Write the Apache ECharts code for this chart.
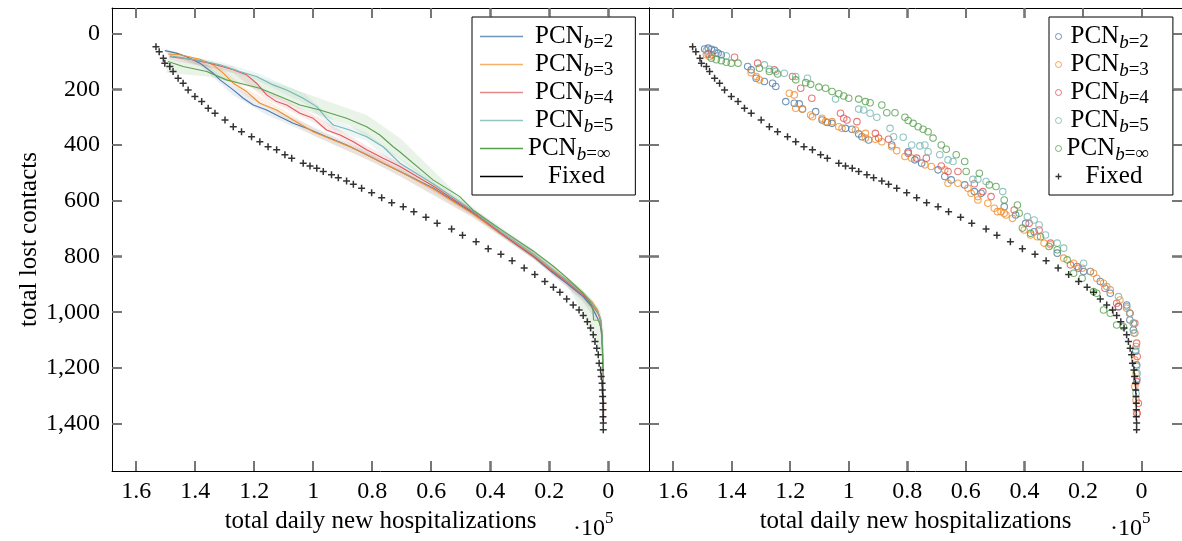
<!DOCTYPE html>
<html><head><meta charset="utf-8">
<script src="https://cdn.jsdelivr.net/npm/echarts@6/dist/echarts.min.js"></script>
<style>html,body{margin:0;padding:0;background:#fff}#c{width:1182px;height:541px}</style>
</head><body><div id="c"></div>
<script>
// ---------- data (x in units of 1e5 hospitalizations, y = lost contacts) ----------
const xTicks = [0, 0.2, 0.4, 0.6, 0.8, 1, 1.2, 1.4, 1.6];
const yTicks = [0, 200, 400, 600, 800, 1000, 1200, 1400];

const fixedPts = [[1.533,47],[1.522,65],[1.508,88],[1.503,106],[1.486,118],[1.475,136],[1.458,160],[1.441,178],[1.424,202],[1.401,226],[1.378,244],[1.356,268],[1.333,286],[1.299,310],[1.271,334],[1.243,352],[1.209,370],[1.181,388],[1.153,406],[1.124,417],[1.096,435],[1.073,447],[1.034,465],[1.011,475],[0.988,483],[0.966,495],[0.938,507],[0.915,517],[0.887,529],[0.864,541],[0.836,555],[0.802,571],[0.768,589],[0.734,607],[0.695,621],[0.659,639],[0.618,659],[0.580,681],[0.531,701],[0.494,724],[0.448,747],[0.407,772],[0.364,792],[0.326,815],[0.285,841],[0.249,865],[0.215,890],[0.186,910],[0.164,928],[0.141,953],[0.119,974],[0.099,992],[0.085,1012],[0.071,1034],[0.060,1057],[0.051,1081],[0.045,1105],[0.039,1129],[0.034,1153],[0.031,1183],[0.026,1207],[0.024,1231],[0.021,1255],[0.020,1279],[0.019,1303],[0.018,1327],[0.018,1350],[0.018,1375],[0.017,1398],[0.017,1422]];

const lineB2 = [[1.503,61],[1.463,70],[1.429,83],[1.384,106],[1.339,142],[1.316,166],[1.271,202],[1.237,232],[1.203,256],[1.158,274],[1.113,298],[1.068,322],[1.022,340],[0.955,370],[0.887,400],[0.819,435],[0.763,465],[0.706,495],[0.594,554],[0.458,645],[0.367,716],[0.254,800],[0.186,860],[0.141,896],[0.085,944],[0.056,980],[0.039,1016],[0.028,1040],[0.022,1088],[0.019,1159],[0.017,1255],[0.017,1340]];
const lineB3 = [[1.492,73],[1.452,76],[1.384,92],[1.339,112],[1.305,142],[1.271,178],[1.226,208],[1.181,250],[1.124,274],[1.068,310],[1.0,352],[0.932,382],[0.864,411],[0.797,447],[0.740,477],[0.706,495],[0.594,557],[0.459,647],[0.367,715],[0.254,796],[0.187,852],[0.140,884],[0.086,931],[0.055,963],[0.035,995],[0.025,1028],[0.020,1099],[0.018,1207],[0.016,1315],[0.016,1394]];
const lineB4 = [[1.486,83],[1.418,92],[1.350,106],[1.271,130],[1.226,148],[1.192,178],[1.158,220],[1.124,244],[1.090,256],[1.045,286],[1.0,304],[0.955,346],[0.909,364],[0.864,388],[0.819,417],[0.763,447],[0.706,477],[0.594,547],[0.459,640],[0.367,714],[0.255,798],[0.187,855],[0.140,891],[0.086,938],[0.055,974],[0.035,1003],[0.025,1035],[0.020,1099],[0.018,1207],[0.016,1315],[0.016,1387]];
const lineB5 = [[1.486,80],[1.384,97],[1.316,112],[1.249,136],[1.192,154],[1.136,184],[1.090,202],[1.034,232],[0.988,262],[0.955,304],[0.932,328],[0.876,346],[0.819,370],[0.763,406],[0.706,465],[0.594,539],[0.459,636],[0.367,708],[0.255,791],[0.187,848],[0.140,884],[0.086,931],[0.055,967],[0.035,999],[0.025,1028],[0.020,1099],[0.018,1207],[0.017,1297]];
const lineInf = [[1.492,100],[1.441,118],[1.361,136],[1.294,166],[1.249,178],[1.181,196],[1.113,226],[1.045,256],[0.977,274],[0.887,304],[0.819,334],[0.774,364],[0.729,406],[0.706,425],[0.594,525],[0.503,585],[0.459,633],[0.367,701],[0.255,780],[0.187,834],[0.140,877],[0.086,931],[0.062,963],[0.052,992],[0.050,1028],[0.033,1029],[0.023,1063],[0.020,1135],[0.018,1207]];

// confidence bands: upper edge and lower edge
const bandB2Up = [[1.50,55],[1.38,95],[1.27,185],[1.16,260],[1.02,325],[0.82,420],[0.71,482],[0.46,632],[0.25,788],[0.09,930],[0.04,1005]];
const bandB2Lo = [[1.50,70],[1.38,118],[1.27,222],[1.16,290],[1.02,356],[0.82,450],[0.71,510],[0.46,658],[0.25,812],[0.09,958],[0.04,1030]];
const bandB3Up = [[1.49,65],[1.34,100],[1.23,195],[1.12,262],[1.0,340],[0.80,435],[0.71,483],[0.46,635],[0.25,784],[0.09,918],[0.035,985],[0.02,1100]];
const bandB3Lo = [[1.49,82],[1.34,124],[1.23,222],[1.12,288],[1.0,366],[0.80,460],[0.71,508],[0.46,660],[0.25,810],[0.09,946],[0.035,1010],[0.02,1100]];
const bandB4Up = [[1.49,75],[1.27,118],[1.16,205],[1.0,290],[0.82,402],[0.71,462],[0.46,626],[0.25,786],[0.09,926],[0.035,990]];
const bandB4Lo = [[1.49,92],[1.27,142],[1.16,235],[1.0,318],[0.82,432],[0.71,492],[0.46,654],[0.25,812],[0.09,952],[0.035,1016]];
const bandB5Up = [[1.49,72],[1.32,100],[1.19,140],[1.03,215],[0.93,310],[0.82,355],[0.71,445],[0.46,622],[0.25,778],[0.09,918],[0.035,986]];
const bandB5Lo = [[1.49,90],[1.32,124],[1.19,168],[1.03,250],[0.93,345],[0.82,385],[0.71,485],[0.46,650],[0.25,804],[0.09,944],[0.035,1012]];
const bandInfUp = [[1.497,90],[1.384,108],[1.226,142],[1.090,190],[0.932,250],[0.819,292],[0.706,375],[0.594,490],[0.459,632],[0.367,699],[0.254,776],[0.141,872],[0.062,944],[0.028,992],[0.015,1063],[0.015,1150]];
const bandInfLo = [[1.497,140],[1.350,155],[1.215,192],[1.045,270],[0.876,330],[0.706,450],[0.594,545],[0.459,650],[0.367,720],[0.254,805],[0.141,900],[0.097,980],[0.062,1063],[0.040,1110],[0.028,1135],[0.020,1200]];

const dotB2 = [[1.492,55],[1.480,52],[1.469,56],[1.458,60],[1.446,70],[1.435,76],[1.345,118],[1.333,130],[1.316,160],[1.288,172],[1.260,178],[1.249,190],[1.215,244],[1.186,250],[1.169,252],[1.158,271],[1.113,280],[1.091,310],[1.073,319],[1.057,322],[1.011,340],[0.989,343],[0.966,360],[0.955,370],[0.932,382],[0.853,400],[0.797,424],[0.774,453],[0.751,465],[0.695,489],[0.672,513],[0.650,525],[0.604,543],[0.571,567],[0.548,573],[0.469,621],[0.430,651],[0.396,681],[0.367,711],[0.288,788],[0.220,836],[0.198,854],[0.141,890],[0.107,932],[0.079,980],[0.051,974],[0.040,1028],[0.028,1064],[0.020,1140],[0.017,1189],[0.016,1240]];
const dotB3 = [[1.486,76],[1.475,82],[1.333,140],[1.316,154],[1.305,166],[1.203,214],[1.186,220],[1.181,268],[1.158,271],[1.130,292],[1.124,298],[1.091,304],[1.079,316],[1.057,316],[1.034,334],[1.023,340],[0.977,346],[0.943,358],[0.943,375],[0.909,379],[0.887,388],[0.853,406],[0.836,420],[0.808,441],[0.785,447],[0.740,471],[0.718,477],[0.672,489],[0.661,537],[0.627,537],[0.593,555],[0.582,573],[0.559,585],[0.559,597],[0.525,609],[0.503,627],[0.492,639],[0.480,639],[0.469,645],[0.463,651],[0.441,663],[0.401,705],[0.379,723],[0.356,729],[0.333,752],[0.311,758],[0.266,806],[0.232,824],[0.203,842],[0.164,860],[0.153,878],[0.130,896],[0.107,920],[0.074,956],[0.051,986],[0.040,1004],[0.028,1040],[0.023,1075],[0.019,1123],[0.023,1171],[0.019,1219],[0.023,1267],[0.019,1315],[0.017,1363]];
const dotB4 = [[1.480,73],[1.469,76],[1.390,85],[1.311,106],[1.254,130],[1.192,154],[1.164,196],[1.126,232],[1.028,286],[1.017,304],[1.006,310],[0.972,316],[0.909,358],[0.898,375],[0.864,379],[0.797,429],[0.768,447],[0.735,447],[0.684,475],[0.661,495],[0.627,495],[0.571,539],[0.542,567],[0.514,585],[0.435,633],[0.384,681],[0.350,705],[0.311,752],[0.243,830],[0.215,842],[0.175,854],[0.125,914],[0.085,968],[0.079,980],[0.040,1004],[0.023,1040],[0.017,1111],[0.015,1159],[0.017,1249],[0.011,1327],[0.015,1363]];
const dotB5 = [[1.486,61],[1.452,68],[1.418,80],[1.288,112],[1.271,128],[1.249,136],[1.220,142],[1.181,154],[1.141,160],[1.045,235],[0.966,271],[0.949,274],[0.927,286],[0.904,300],[0.859,340],[0.847,370],[0.814,372],[0.785,400],[0.757,403],[0.740,400],[0.729,424],[0.689,435],[0.661,453],[0.644,459],[0.576,523],[0.559,523],[0.531,531],[0.474,567],[0.390,657],[0.367,669],[0.350,687],[0.328,723],[0.288,752],[0.266,770],[0.198,824],[0.175,854],[0.119,908],[0.079,944],[0.051,980],[0.040,1004],[0.028,1040],[0.026,1075],[0.021,1135],[0.017,1195],[0.015,1219],[0.019,1291]];
const dotInf = [[1.469,88],[1.452,94],[1.435,97],[1.418,103],[1.401,106],[1.378,106],[1.305,124],[1.271,136],[1.243,145],[1.181,166],[1.147,176],[1.130,182],[1.102,192],[1.079,196],[1.057,208],[1.034,216],[1.017,224],[1.0,232],[0.966,235],[0.943,244],[0.927,248],[0.887,256],[0.870,284],[0.842,284],[0.808,300],[0.797,312],[0.780,322],[0.763,334],[0.746,343],[0.729,352],[0.712,375],[0.684,400],[0.667,415],[0.633,435],[0.604,459],[0.599,495],[0.554,501],[0.520,543],[0.497,549],[0.469,597],[0.424,615],[0.418,645],[0.407,698],[0.379,717],[0.345,729],[0.316,764],[0.288,776],[0.254,812],[0.232,860],[0.203,878],[0.164,926],[0.153,932],[0.130,992],[0.107,1004],[0.085,1046],[0.062,1052]];

// ---------- styling ----------
const C = {b2:'#4e79a7', b3:'#f28e2b', b4:'#e15759', b5:'#76b7b2', inf:'#59a14f'};
const FONT = 'Liberation Serif';
const X_MIN = -0.138, X_MAX = 1.682, Y_MIN = -92, Y_MAX = 1570;
const PLUS = 'path://M2.75,0H4.25V2.75H7V4.25H4.25V7H2.75V4.25H0V2.75H2.75Z';
const TICK_LEN = 10, TICK_COLOR = '#6e6e6e', TICK_W = 1.5;

const tickStyle = {show:true, inside:true, length:TICK_LEN, lineStyle:{color:TICK_COLOR, width:TICK_W}};
function xAx(grid, pos, labels) {
  return {type:'value', gridIndex:grid, position:pos, min:X_MIN, max:X_MAX, inverse:true,
    axisLine:{show:true, onZero:false, lineStyle:{color:'#000', width:1}}, splitLine:{show:false},
    axisTick:Object.assign({customValues:xTicks}, tickStyle),
    axisLabel: labels ? {show:true, customValues:xTicks, margin:9, color:'#000', fontFamily:FONT, fontSize:24,
      formatter:v => String(+(+v).toFixed(1))} : {show:false},
    name: labels ? 'total daily new hospitalizations' : '', nameLocation:'middle', nameGap:38,
    nameTextStyle:{fontFamily:FONT, fontSize:25, color:'#000'}};
}
function yAx(grid, pos, labels, name) {
  return {type:'value', gridIndex:grid, position:pos, min:Y_MIN, max:Y_MAX, inverse:true,
    axisLine:{show:true, onZero:false, lineStyle:{color:'#000', width:1}}, splitLine:{show:false},
    axisTick:Object.assign({customValues:yTicks}, tickStyle),
    axisLabel: labels ? {show:true, customValues:yTicks, margin:12, color:'#000', fontFamily:FONT, fontSize:24,
      formatter:v => String(Math.round(v)).replace(/\B(?=(\d{3})+(?!\d))/g, ',')} : {show:false},
    name: name || '', nameLocation:'middle', nameGap:70,
    nameTextStyle:{fontFamily:FONT, fontSize:25, color:'#000'}};
}

function lineS(name, data, color) {
  return {type:'line', name, data, xAxisIndex:0, yAxisIndex:0, symbol:'none', showSymbol:false,
    lineStyle:{color, width:1.1}, itemStyle:{color}, z:3, silent:true};
}
function bandS(up, lo, color) {
  return {type:'custom', xAxisIndex:0, yAxisIndex:0, silent:true, z:1, clip:true,
    data: up.concat(lo), encode:{x:0, y:1},
    renderItem:(params, api) => {
      if (params.dataIndex !== 0) return null;
      const pts = up.map(p => api.coord(p)).concat(lo.slice().reverse().map(p => api.coord(p)));
      return {type:'polygon', shape:{points:pts}, style:{fill:color, opacity:0.13}};
    }};
}
function dotS(name, data, color) {
  return {type:'scatter', name, data, xAxisIndex:2, yAxisIndex:2, symbol:'circle', symbolSize:6.5,
    itemStyle:{color:'rgba(255,255,255,0)', borderColor:color, borderWidth:1.1}, z:3, silent:true};
}

const rich = {
  p7:{fontSize:25, fontFamily:FONT, padding:[0,0,0,7], lineHeight:31},
  p0:{fontSize:25, fontFamily:FONT, lineHeight:31},
  q4:{fontSize:25, fontFamily:FONT, padding:[0,0,0,4], lineHeight:31},
  i:{fontSize:19, fontFamily:FONT, fontStyle:'italic', verticalAlign:'bottom'},
  s:{fontSize:19, fontFamily:FONT, verticalAlign:'bottom'},
  f:{fontSize:25, fontFamily:FONT, padding:[0,0,0,20], lineHeight:31},
  g:{fontSize:25, fontFamily:FONT, padding:[0,0,0,19], lineHeight:31}
};
const legendText = {
  L2:'{p7|PCN}{i|b}{s|=2}', L3:'{p7|PCN}{i|b}{s|=3}', L4:'{p7|PCN}{i|b}{s|=4}', L5:'{p7|PCN}{i|b}{s|=5}',
  Linf:'{p0|PCN}{i|b}{s|=∞}', LFixed:'{f|Fixed}',
  R2:'{q4|PCN}{i|b}{s|=2}', R3:'{q4|PCN}{i|b}{s|=3}', R4:'{q4|PCN}{i|b}{s|=4}', R5:'{q4|PCN}{i|b}{s|=5}',
  Rinf:'{p0|PCN}{i|b}{s|=∞}', RFixed:'{g|Fixed}'
};

const baseGraphic = [
  {type:'text', left:573, top:517, style:{text:'·10', fontFamily:FONT, fontSize:24, fill:'#000'}},
  {type:'text', left:605, top:510, style:{text:'5', fontFamily:FONT, fontSize:17, fill:'#000'}},
  {type:'text', left:1110, top:517, style:{text:'·10', fontFamily:FONT, fontSize:24, fill:'#000'}},
  {type:'text', left:1142, top:510, style:{text:'5', fontFamily:FONT, fontSize:17, fill:'#000'}}
];

const chart = echarts.init(document.getElementById('c'), null, {renderer:'canvas'});
chart.setOption({
  animation:false,
  backgroundColor:'#fff',
  grid:[
    {left:112, top:8, width:537, height:463},
    {left:649, top:8, width:537, height:463}
  ],
  xAxis:[xAx(0,'bottom',true), xAx(0,'top',false), xAx(1,'bottom',true), xAx(1,'top',false)],
  yAxis:[yAx(0,'left',true,'total lost contacts'), yAx(0,'right',false), yAx(1,'left',false), yAx(1,'right',false)],
  legend:[
    {left:472, top:17, orient:'vertical', itemGap:0, itemWidth:43, itemHeight:1.3, icon:'rect', selectedMode:false,
     padding:[7,22,6,8], borderColor:'#000', borderWidth:1, backgroundColor:'#fff', borderRadius:0, z:10,
     data:[{name:'L2',itemStyle:{opacity:0.8}},{name:'L3',itemStyle:{opacity:0.7}},{name:'L4',itemStyle:{opacity:0.7}},{name:'L5',itemStyle:{opacity:0.8}},{name:'Linf'},{name:'LFixed'}],
     formatter:n => legendText[n], textStyle:{color:'#000', fontFamily:FONT, fontSize:25, rich}},
    {left:1049, top:17, orient:'vertical', itemGap:0, itemWidth:6, itemHeight:6, selectedMode:false,
     padding:[7,24,6,6], borderColor:'#000', borderWidth:1, backgroundColor:'#fff', borderRadius:0, z:10,
     itemStyle:{borderWidth:1},
     data:['R2','R3','R4','R5','Rinf','RFixed'],
     formatter:n => legendText[n], textStyle:{color:'#000', fontFamily:FONT, fontSize:25, rich}}
  ],
  graphic: baseGraphic,
  series:[
    bandS(bandB2Up, bandB2Lo, C.b2), bandS(bandB3Up, bandB3Lo, C.b3), bandS(bandB4Up, bandB4Lo, C.b4),
    bandS(bandB5Up, bandB5Lo, C.b5), bandS(bandInfUp, bandInfLo, C.inf),
    lineS('L2', lineB2, C.b2), lineS('L3', lineB3, C.b3), lineS('L4', lineB4, C.b4),
    lineS('L5', lineB5, C.b5), lineS('Linf', lineInf, C.inf),
    {type:'line', name:'LFixed', data:[], xAxisIndex:0, yAxisIndex:0, symbol:'none', lineStyle:{color:'#000', width:1.1}, itemStyle:{color:'#000'}},
    {type:'scatter', name:'fixedLeft', data:fixedPts, xAxisIndex:0, yAxisIndex:0, symbol:PLUS, symbolSize:7, itemStyle:{color:'#000'}, z:4, silent:true},
    dotS('R2', dotB2, C.b2), dotS('R3', dotB3, C.b3), dotS('R4', dotB4, C.b4), dotS('R5', dotB5, C.b5), dotS('Rinf', dotInf, C.inf),
    {type:'scatter', name:'RFixed', data:fixedPts, xAxisIndex:2, yAxisIndex:2, symbol:PLUS, symbolSize:7, itemStyle:{color:'#000'}, z:4, silent:true}
  ]
});

// Inward tick marks on all four frame sides, placed through the axes' own scales (convertToPixel),
// drawn on a separate layer so nothing can cover them.
const tickEls = [];
[0, 1].forEach(g => {
  const finder = {gridIndex:g};
  const st = {stroke:TICK_COLOR, lineWidth:TICK_W};
  xTicks.forEach(v => {
    const top = chart.convertToPixel(finder, [v, Y_MIN]);
    const bot = chart.convertToPixel(finder, [v, Y_MAX]);
    if (!top || !bot) return;
    const x = Math.round(top[0]);
    tickEls.push({type:'line', zlevel:1, z:100, silent:true, shape:{x1:x, y1:top[1], x2:x, y2:top[1] + TICK_LEN}, style:st});
    tickEls.push({type:'line', zlevel:1, z:100, silent:true, shape:{x1:x, y1:bot[1], x2:x, y2:bot[1] - TICK_LEN}, style:st});
  });
  yTicks.forEach(v => {
    const l = chart.convertToPixel(finder, [X_MAX, v]);
    const r = chart.convertToPixel(finder, [X_MIN, v]);
    if (!l || !r) return;
    const y = Math.round(l[1]);
    tickEls.push({type:'line', zlevel:1, z:100, silent:true, shape:{x1:l[0], y1:y, x2:l[0] + TICK_LEN, y2:y}, style:st});
    tickEls.push({type:'line', zlevel:1, z:100, silent:true, shape:{x1:r[0], y1:y, x2:r[0] - TICK_LEN, y2:y}, style:st});
  });
});
chart.setOption({graphic: baseGraphic.concat(tickEls)}, {replaceMerge:['graphic']});
</script>
</body></html>
